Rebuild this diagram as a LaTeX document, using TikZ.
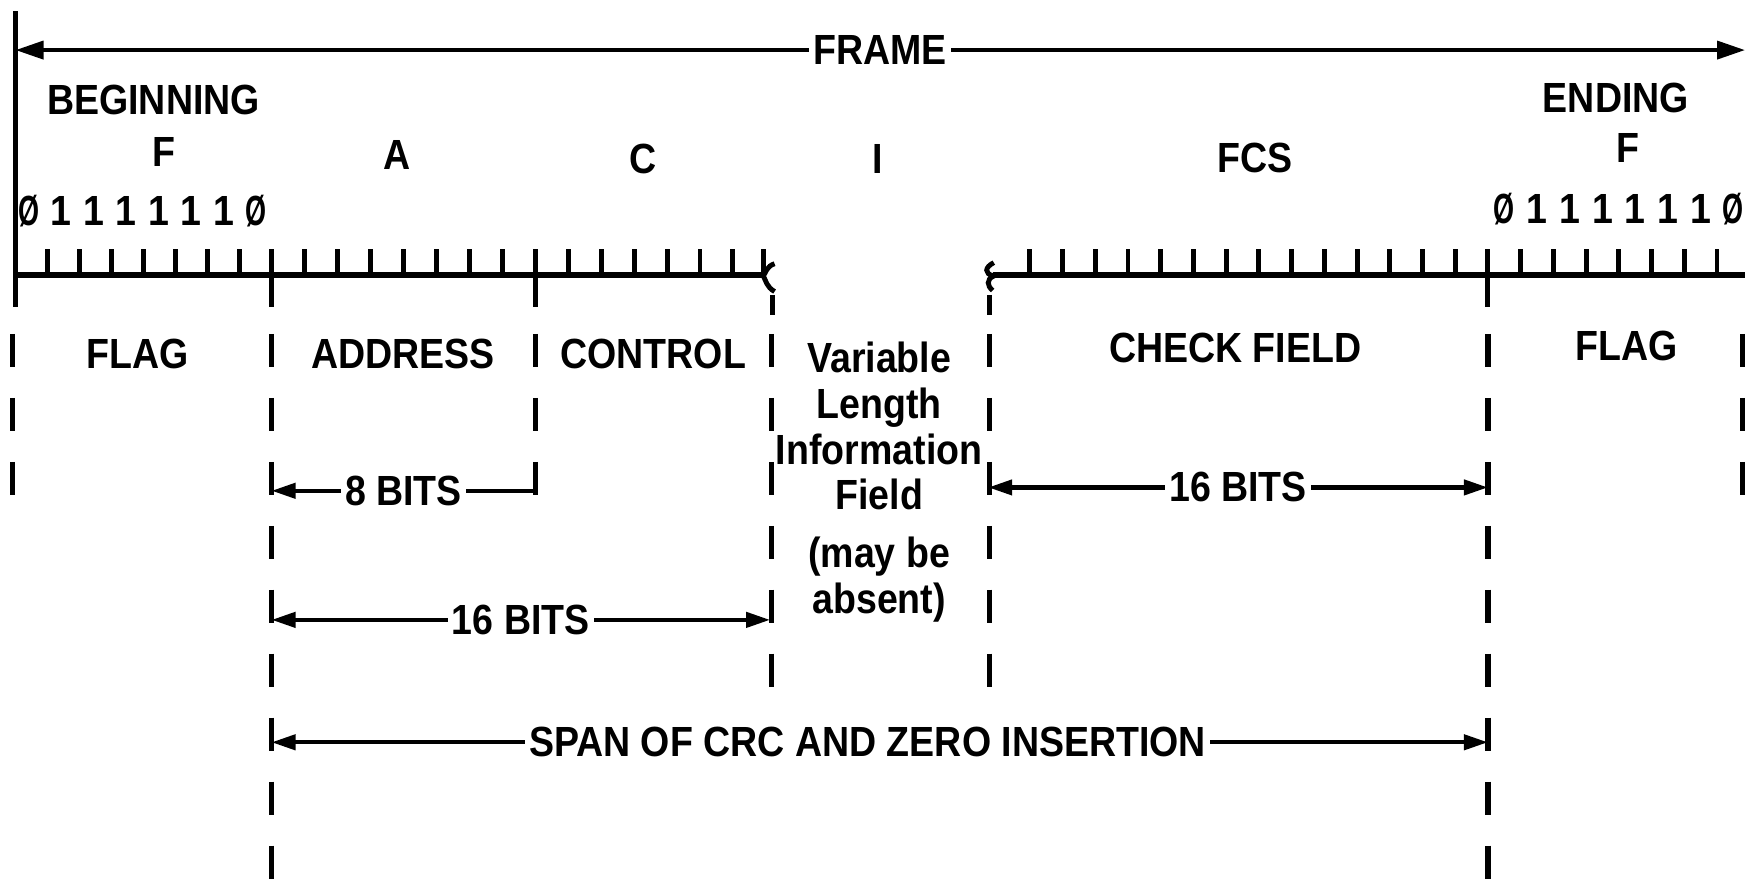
\documentclass[tikz,border=0pt]{standalone}
\usepackage{fontspec}
\setmainfont{Liberation Sans}[FakeStretch=0.89]
\usetikzlibrary{arrows.meta}
\tikzstyle{lbl}       = [font=\bfseries\fontsize{12}{13}\selectfont, inner sep=0pt, align=center]
\tikzstyle{dimlbl}    = [lbl, fill=white, inner xsep=1.2pt, inner ysep=1pt]
\tikzstyle{dim}       = [line width=1.2pt, {Triangle[length=2.4mm,width=1.5mm]}-{Triangle[length=2.4mm,width=1.5mm]}]
\tikzstyle{halfdim}   = [line width=1.2pt, {Triangle[length=2.4mm,width=1.5mm]}-]
\tikzstyle{framedim}  = [line width=1.1pt, {Triangle[length=2.8mm,width=1.8mm]}-{Triangle[length=2.8mm,width=1.8mm]}]
\tikzstyle{tick}      = [line width=1.4pt]
\tikzstyle{baseln}    = [line width=1.9pt]
\tikzstyle{fieldline} = [line width=1.5pt, dash pattern=on 9.4pt off 8.8pt]
\newcommand{\zerobit}{\scalebox{0.72}[1]{Ø}}
\begin{document}
\begin{tikzpicture}[x=0.11129mm, y=-0.11129mm]
    \useasboundingbox (0,0) rectangle (1568,797);

    % frame
    \draw[tick] (14,10) -- (14,276);
    \coordinate (frL) at (14,45);
    \coordinate (frR) at (1568,45);
    \draw[framedim] (frL) -- (frR) node[dimlbl, midway] (frame) {FRAME};

    % headings
    \node[lbl] (beg)    at (138,90)   {BEGINNING};
    \node[lbl] (fbeg)   at (147,137)  {F};
    \node[lbl] (ahdr)   at (357,139)  {A};
    \node[lbl] (chdr)   at (578,143)  {C};
    \node[lbl] (ihdr)   at (789,143)  {I};
    \node[lbl] (fcshdr) at (1128,142) {FCS};
    \node[lbl] (ending) at (1452,88)  {ENDING};
    \node[lbl] (fend)   at (1463,133) {F};

    % flag bits
    \foreach \d [count=\i from 0] in {\zerobit,1,1,1,1,1,1,\zerobit}
        \node[lbl] (bl\i) at ({26+29.2*\i},190) {\d};
    \foreach \d [count=\i from 0] in {\zerobit,1,1,1,1,1,1,\zerobit}
        \node[lbl] (br\i) at ({1351.7+29.4*\i},188) {\d};

    % bit ruler, left part
    \draw[baseln] (14,247) -- (687,247);
    \foreach \k in {1,...,7} \draw[tick] ({14+28.75*\k},224) -- ++(0,23);
    \foreach \k in {1,...,7} \draw[tick] ({244+29.6*\k},224) -- ++(0,23);
    \foreach \k in {1,...,6} \draw[tick] ({481+29.6*\k},224) -- ++(0,23);
    \draw[tick] (686,224) -- (686,247);
    \draw[tick] (696,237) .. controls (689,239) and (688,245) .. (686,248)
                          .. controls (688,252) and (689,258) .. (696,262);
    % bit ruler, right part
    \draw[baseln] (892,247) -- (1568,247);
    \foreach \k in {1,...,14} \draw[tick] ({1337-29.4*\k},224) -- ++(0,23);
    \foreach \k in {1,...,7} \draw[tick] ({1337+29.4*\k},224) -- ++(0,23);
    \draw[tick] (893,236) .. controls (885,240) and (884,246) .. (893,248)
                          .. controls (886,251) and (887,257) .. (892,261);
    \foreach \x in {244,481,1337} \draw[tick] (\x,224) -- (\x,276);

    % field boundaries
    \foreach \x/\yend in {11/446, 244/797, 481/446, 693/620, 889/620, 1337/797, 1566/446}
        \draw[fieldline] (\x,300) -- (\x,\yend);
    \draw[tick] (694,265) -- (694,283);
    \draw[tick] (889,265) -- (889,283);

    % field names
    \node[lbl] (flagL)  at (124,318)  {FLAG};
    \node[lbl] (addr)   at (362,318)  {ADDRESS};
    \node[lbl] (ctrl)   at (587,318)  {CONTROL};
    \node[lbl] (info)   at (790,383)  {Variable\\Length\\Information\\Field};
    \node[lbl] (absent) at (790,521)  {(may be\\absent)};
    \node[lbl] (chk)    at (1110,313) {CHECK FIELD};
    \node[lbl] (flagR)  at (1462,311) {FLAG};

    % spans
    \coordinate (a8L) at (244,441);   \coordinate (a8R) at (481,441);
    \coordinate (a16L) at (244,557);  \coordinate (a16R) at (692,557);
    \coordinate (c16L) at (888,438);  \coordinate (c16R) at (1337,438);
    \coordinate (crcL) at (244,667);  \coordinate (crcR) at (1337,667);
    \draw[halfdim] (a8L) -- (a8R)   node[dimlbl, midway]   (n8)   {8 BITS};
    \draw[dim]     (a16L) -- (a16R) node[dimlbl, midway]   (n16a) {16 BITS};
    \draw[dim]     (c16L) -- (c16R) node[dimlbl, midway]   (n16c) {16 BITS};
    \draw[dim]     (crcL) -- (crcR) node[dimlbl, pos=0.49] (ncrc) {SPAN OF CRC AND ZERO INSERTION};
\end{tikzpicture}
\end{document}
